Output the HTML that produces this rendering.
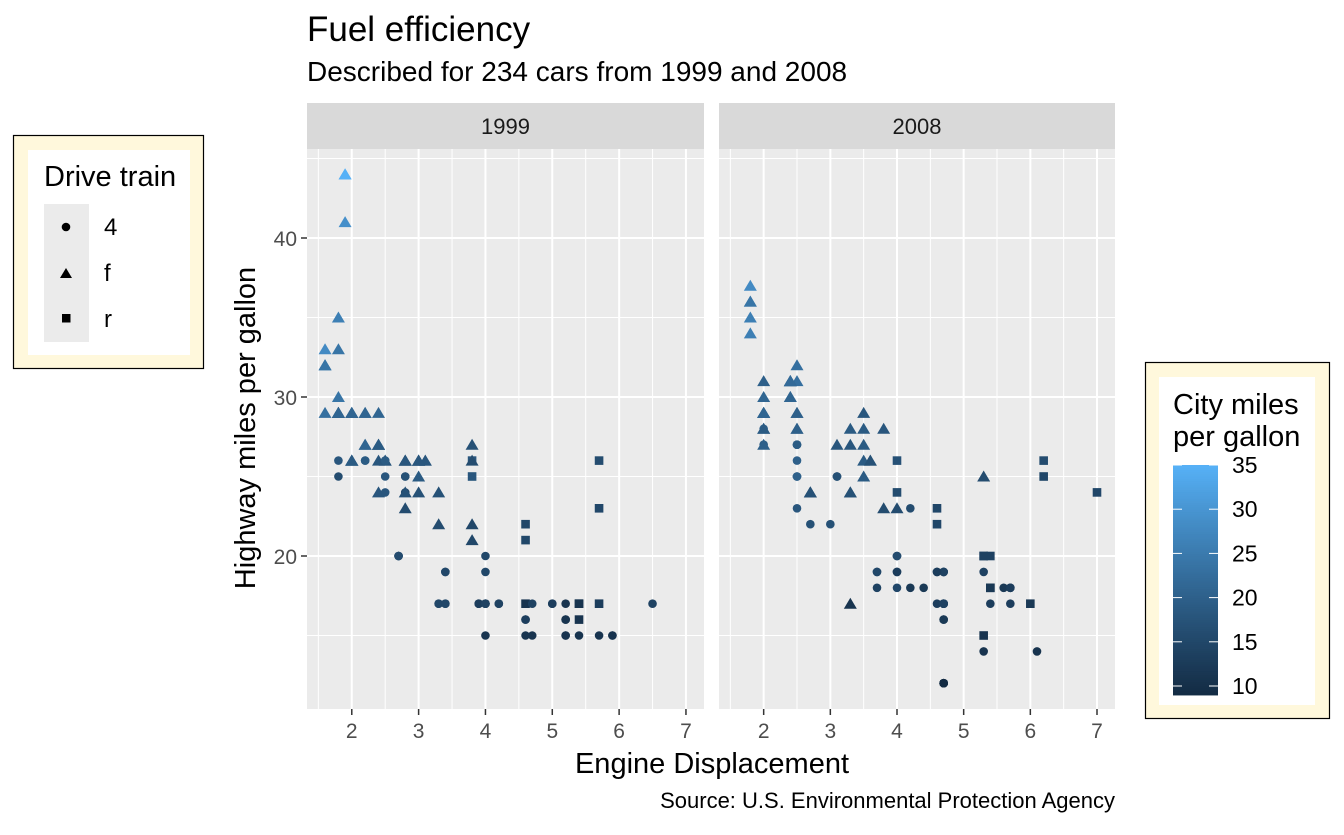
<!DOCTYPE html>
<html><head><meta charset="utf-8"><style>
body{margin:0;background:#fff;}
svg text{font-family:"Liberation Sans",Arial,sans-serif;}
</style></head><body>
<svg id="s" width="1344" height="830" xmlns="http://www.w3.org/2000/svg">
<rect width="1344" height="830" fill="#fff"/>
<text x="307" y="41" font-size="35" fill="#000">Fuel efficiency</text>
<text x="307" y="81" font-size="28" fill="#000">Described for 234 cars from 1999 and 2008</text>
<text x="1115" y="808" font-size="22" text-anchor="end" fill="#000">Source: U.S. Environmental Protection Agency</text>
<text x="712" y="773" font-size="29" text-anchor="middle" fill="#000">Engine Displacement</text>
<text transform="translate(255,428) rotate(-90)" font-size="29" text-anchor="middle" fill="#000">Highway miles per gallon</text>
<g id="g"></g>
<rect x="13.5" y="135.5" width="190" height="233" fill="#FFF8DC" stroke="#000" stroke-width="1.2"/>
<rect x="28" y="150" width="162" height="205" fill="#fff"/>
<text x="44" y="186" font-size="29" fill="#000">Drive train</text>
<rect x="44" y="204" width="45" height="138" fill="#EBEBEB"/>
<circle cx="66" cy="227" r="4.3" fill="#000"/>
<polygon points="66,268 72,278 60,278" fill="#000"/>
<rect x="62" y="314" width="8.5" height="8.5" fill="#000"/>
<text x="104" y="235" font-size="24">4</text>
<text x="104" y="281" font-size="24">f</text>
<text x="104" y="327" font-size="24">r</text>
<rect x="1145.5" y="362.5" width="184" height="356" fill="#FFF8DC" stroke="#000" stroke-width="1.2"/>
<rect x="1159" y="377" width="156" height="328" fill="#fff"/>
<text x="1173" y="414" font-size="29">City miles</text>
<text x="1173" y="446" font-size="29">per gallon</text>
<g id="leg"></g>
</svg>
<script>
function h2rgb(h){return [1,3,5].map(i=>parseInt(h.substr(i,2),16)/255);}
function lin(c){return c<=0.04045?c/12.92:Math.pow((c+0.055)/1.055,2.4);}
function gam(c){return c<=0.0031308?12.92*c:1.055*Math.pow(c,1/2.4)-0.055;}
function toLab(h){let [r,g,b]=h2rgb(h).map(lin);
 let X=(0.4124*r+0.3576*g+0.1805*b)/0.95047,Y=0.2126*r+0.7152*g+0.0722*b,Z=(0.0193*r+0.1192*g+0.9505*b)/1.08883;
 const f=t=>t>0.008856?Math.cbrt(t):7.787*t+16/116;
 return [116*f(Y)-16,500*(f(X)-f(Y)),200*(f(Y)-f(Z))];}
function fromLab(L,a,b){let fy=(L+16)/116,fx=fy+a/500,fz=fy-b/200;
 const fi=t=>t*t*t>0.008856?t*t*t:(t-16/116)/7.787;
 let X=fi(fx)*0.95047,Y=fi(fy),Z=fi(fz)*1.08883;
 let r=3.2406*X-1.5372*Y-0.4986*Z,g=-0.9689*X+1.8758*Y+0.0415*Z,bb=0.0557*X-0.2040*Y+1.0570*Z;
 return '#'+[r,g,bb].map(c=>{let v=Math.round(Math.max(0,Math.min(1,gam(c)))*255);return v.toString(16).padStart(2,'0');}).join('');}
const A=toLab('#132B43'),B=toLab('#56B1F7');
function col(c){let t=(c-9)/(35-9);return fromLab(A[0]+(B[0]-A[0])*t,A[1]+(B[1]-A[1])*t,A[2]+(B[2]-A[2])*t);}
const D=`1.8 1999 f 18 29|1.8 1999 f 21 29|2.0 2008 f 20 31|2.0 2008 f 21 30|2.8 1999 f 16 26|2.8 1999 f 18 26|3.1 2008 f 18 27|1.8 1999 4 18 26|1.8 1999 4 16 25|2.0 2008 4 20 28|2.0 2008 4 19 27|2.8 1999 4 15 25|2.8 1999 4 17 25|3.1 2008 4 17 25|3.1 2008 4 15 25|2.8 1999 4 15 24|3.1 2008 4 17 25|4.2 2008 4 16 23|5.3 2008 r 14 20|5.3 2008 r 11 15|5.3 2008 r 14 20|5.7 1999 r 13 17|6.0 2008 r 12 17|5.7 1999 r 16 26|5.7 1999 r 15 23|6.2 2008 r 16 26|6.2 2008 r 15 25|7.0 2008 r 15 24|5.3 2008 4 14 19|5.3 2008 4 11 14|5.7 1999 4 11 15|6.5 1999 4 14 17|2.4 1999 f 19 27|2.4 2008 f 22 30|3.1 1999 f 18 26|3.5 2008 f 18 29|3.6 2008 f 17 26|2.4 1999 f 18 24|3.0 1999 f 17 24|3.3 1999 f 16 22|3.3 1999 f 17 24|3.3 2008 f 17 24|3.3 2008 f 17 24|3.3 2008 f 11 17|3.8 1999 f 15 22|3.8 1999 f 15 21|3.8 2008 f 16 23|4.0 2008 f 16 23|3.7 2008 4 15 19|3.7 2008 4 14 18|3.9 1999 4 13 17|3.9 1999 4 14 17|4.7 2008 4 14 19|4.7 2008 4 14 19|4.7 2008 4 9 12|5.2 1999 4 11 17|5.2 1999 4 11 15|3.9 1999 4 13 17|4.7 2008 4 13 17|4.7 2008 4 9 12|4.7 2008 4 13 17|5.2 1999 4 11 16|5.7 2008 4 13 18|5.9 1999 4 11 15|4.7 2008 4 12 16|4.7 2008 4 9 12|4.7 2008 4 13 17|4.7 2008 4 13 17|4.7 2008 4 12 16|4.7 2008 4 9 12|5.2 1999 4 11 15|5.2 1999 4 11 16|5.7 2008 4 13 17|5.9 1999 4 11 15|4.6 1999 r 11 17|5.4 1999 r 11 17|5.4 2008 r 12 18|4.0 1999 4 14 17|4.0 1999 4 15 19|4.0 1999 4 14 17|4.0 2008 4 13 19|4.6 2008 4 13 19|5.0 1999 4 13 17|4.2 1999 4 14 17|4.2 1999 4 14 17|4.6 1999 4 13 16|4.6 1999 4 13 16|4.6 2008 4 13 17|5.4 1999 4 11 15|5.4 2008 4 13 17|3.8 1999 r 18 26|3.8 1999 r 18 25|4.0 2008 r 17 26|4.0 2008 r 16 24|4.6 1999 r 15 21|4.6 1999 r 15 22|4.6 2008 r 15 23|4.6 2008 r 15 22|5.4 2008 r 14 20|1.6 1999 f 28 33|1.6 1999 f 24 32|1.6 1999 f 25 32|1.6 1999 f 23 29|1.6 1999 f 24 32|1.8 2008 f 26 34|1.8 2008 f 25 36|1.8 2008 f 24 36|2.0 2008 f 21 29|2.4 1999 f 18 26|2.4 1999 f 18 27|2.4 2008 f 21 30|2.4 2008 f 21 31|2.5 1999 f 18 26|2.5 1999 f 18 26|3.3 2008 f 19 28|2.0 1999 f 19 26|2.0 1999 f 19 29|2.0 2008 f 20 28|2.0 2008 f 20 27|2.7 2008 f 17 24|2.7 2008 f 16 24|2.7 2008 f 17 24|3.0 2008 4 17 22|3.7 2008 4 15 19|4.0 1999 4 15 20|4.0 1999 4 15 17|4.7 1999 4 14 17|4.7 2008 4 9 12|4.7 2008 4 14 19|5.7 2008 4 13 18|6.1 2008 4 11 14|4.0 1999 4 11 15|4.2 2008 4 12 18|4.4 2008 4 12 18|4.6 1999 4 11 15|5.4 1999 r 11 17|5.4 1999 r 11 16|5.4 2008 r 12 18|4.0 1999 4 14 17|4.0 2008 4 13 19|4.6 2008 4 13 19|5.0 1999 4 13 17|2.4 1999 f 21 29|2.4 1999 f 19 27|2.5 2008 f 23 31|2.5 2008 f 23 32|3.5 2008 f 19 27|3.5 2008 f 19 26|3.0 1999 f 18 26|3.0 1999 f 19 25|3.5 2008 f 19 25|3.3 1999 4 14 17|3.3 1999 4 15 17|4.0 2008 4 14 20|5.6 2008 4 12 18|3.1 1999 f 18 26|3.8 1999 f 16 26|3.8 1999 f 17 27|3.8 2008 f 18 28|5.3 2008 f 16 25|2.5 1999 4 18 25|2.5 1999 4 18 24|2.5 2008 4 20 27|2.5 2008 4 19 25|2.5 2008 4 20 26|2.5 2008 4 18 23|2.2 1999 4 21 26|2.2 1999 4 19 26|2.5 1999 4 19 26|2.5 1999 4 19 26|2.5 2008 4 20 27|2.5 2008 4 20 25|2.5 2008 4 19 27|2.5 2008 4 20 25|2.7 1999 4 15 20|2.7 1999 4 16 20|3.4 1999 4 15 19|3.4 1999 4 15 17|4.0 2008 4 16 20|4.7 2008 4 14 17|2.2 1999 f 21 29|2.2 1999 f 21 27|2.4 2008 f 21 31|2.4 2008 f 21 31|3.0 1999 f 18 26|3.0 1999 f 18 26|3.5 2008 f 19 28|2.2 1999 f 21 27|2.2 1999 f 21 29|2.4 2008 f 21 31|2.4 2008 f 22 31|3.0 1999 f 18 26|3.0 1999 f 18 26|3.3 2008 f 18 27|1.8 1999 f 24 30|1.8 1999 f 24 33|1.8 1999 f 26 35|1.8 2008 f 28 37|1.8 2008 f 26 35|4.7 1999 4 11 15|5.7 2008 4 13 18|2.7 1999 4 15 20|2.7 1999 4 16 20|2.7 2008 4 17 22|3.4 1999 4 15 17|3.4 1999 4 15 19|4.0 2008 4 15 18|4.0 2008 4 16 20|2.0 1999 f 21 29|2.0 1999 f 19 26|2.0 2008 f 21 29|2.0 2008 f 22 29|2.8 1999 f 17 24|1.9 1999 f 33 44|2.0 1999 f 21 29|2.0 1999 f 19 26|2.0 2008 f 22 29|2.0 2008 f 21 29|2.5 2008 f 21 29|2.5 2008 f 20 28|2.8 1999 f 16 23|1.9 1999 f 35 44|2.0 1999 f 19 26|2.0 1999 f 21 29|1.9 1999 f 29 41|2.0 1999 f 19 26|2.5 2008 f 20 28|2.5 2008 f 20 29|1.8 1999 f 21 29|1.8 1999 f 18 29|1.8 1999 f 21 29|2.0 2008 f 19 28|2.0 2008 f 21 29|2.8 1999 f 16 26|2.8 1999 f 18 26|3.6 2008 f 17 26`;
let o='';
const P=[{x0:307,x1:704,yr:'1999'},{x0:719,x1:1115,yr:'2008'}];
const yT=149,yB=709;
const ys=v=>238+(40-v)*15.9;
P.forEach((p,i)=>{
 const k=(p.x1-p.x0)/(7.27-1.33), xs=v=>p.x0+(v-1.33)*k;
 o+=`<rect x="${p.x0}" y="103" width="${p.x1-p.x0}" height="${yT-103}" fill="#D9D9D9"/>`;
 o+=`<text x="${(p.x0+p.x1)/2}" y="134" font-size="22" text-anchor="middle" fill="#1A1A1A">${p.yr}</text>`;
 o+=`<rect x="${p.x0}" y="${yT}" width="${p.x1-p.x0}" height="${yB-yT}" fill="#EBEBEB"/>`;
 for(let v=1.5;v<7.3;v+=1)o+=`<line x1="${xs(v)}" x2="${xs(v)}" y1="${yT}" y2="${yB}" stroke="#fff" stroke-width="1"/>`;
 [15,25,35,45].forEach(v=>o+=`<line x1="${p.x0}" x2="${p.x1}" y1="${ys(v)}" y2="${ys(v)}" stroke="#fff" stroke-width="1"/>`);
 [20,30,40].forEach(v=>o+=`<line x1="${p.x0}" x2="${p.x1}" y1="${ys(v)}" y2="${ys(v)}" stroke="#fff" stroke-width="2"/>`);
 for(let v=2;v<=7;v++){o+=`<line x1="${xs(v)}" x2="${xs(v)}" y1="${yT}" y2="${yB}" stroke="#fff" stroke-width="2"/>`;
  o+=`<line x1="${xs(v)}" x2="${xs(v)}" y1="${yB}" y2="${yB+6}" stroke="#333" stroke-width="1.5"/>`;
  o+=`<text x="${xs(v)}" y="${yB+29}" font-size="21" text-anchor="middle" fill="#4D4D4D">${v}</text>`;}
 if(i==0)[20,30,40].forEach(v=>{o+=`<line x1="${p.x0-6}" x2="${p.x0}" y1="${ys(v)}" y2="${ys(v)}" stroke="#333" stroke-width="1.5"/>`;
  o+=`<text x="${p.x0-10}" y="${ys(v)+8}" font-size="21" text-anchor="end" fill="#4D4D4D">${v}</text>`;});
 D.split('|').forEach(r=>{const [d,y,dr,c,h]=r.split(' ');if(y!=p.yr)return;
  const X=xs(+d),Y=ys(+h),f=col(+c);
  if(dr=='4')o+=`<circle cx="${X}" cy="${Y}" r="4.3" fill="${f}"/>`;
  else if(dr=='f')o+=`<polygon points="${X},${Y-6} ${X+6.5},${Y+5} ${X-6.5},${Y+5}" fill="${f}"/>`;
  else o+=`<rect x="${X-4.3}" y="${Y-4.3}" width="8.6" height="8.6" fill="${f}"/>`;});
});
document.getElementById('g').innerHTML=o;
let L='';const cy=v=>686-(v-10)*8.84;
for(let v=9;v<35;v+=0.25){L+=`<rect x="1173" y="${cy(v+0.25)}" width="45" height="${8.84*0.25+0.6}" fill="${col(v+0.125)}"/>`;}
[10,15,20,25,30,35].forEach(v=>{L+=`<line x1="1173" x2="1182" y1="${cy(v)}" y2="${cy(v)}" stroke="#fff" stroke-width="1"/><line x1="1209" x2="1218" y1="${cy(v)}" y2="${cy(v)}" stroke="#fff" stroke-width="1"/>`;
 L+=`<text x="1232" y="${cy(v)+8}" font-size="23" fill="#000">${v}</text>`;});
document.getElementById('leg').innerHTML=L;
</script>
</body></html>
